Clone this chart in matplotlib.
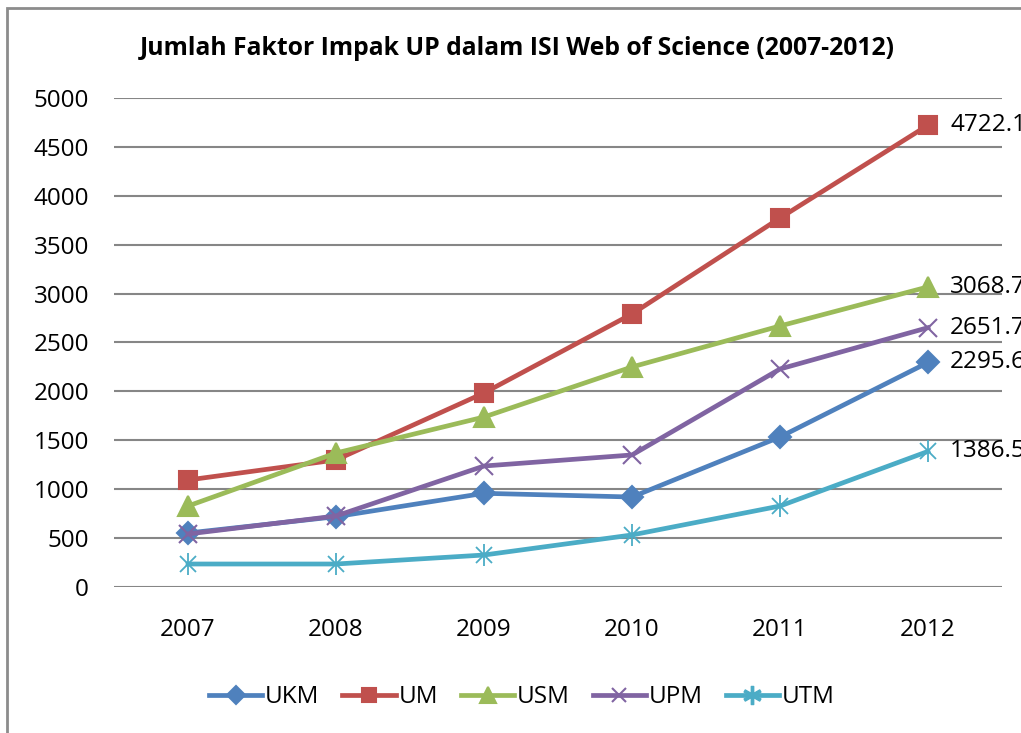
import matplotlib.pyplot as plt
from matplotlib.patches import Rectangle

years = [2007, 2008, 2009, 2010, 2011, 2012]
ukm = [552, 719, 958, 920, 1534, 2295.6]
um = [1094, 1299, 1984, 2792, 3773, 4722.1]
usm = [828, 1370, 1738, 2250, 2669, 3068.7]
upm = [542, 726, 1237, 1350, 2229, 2651.7]
utm = [235, 235, 327, 532, 828, 1386.5]

series = [
    ("UKM", ukm, "#4F81BD", "D", 11),
    ("UM", um, "#C0504D", "s", 13),
    ("USM", usm, "#9BBB59", "^", 14),
    ("UPM", upm, "#8064A2", "x", 13),
    ("UTM", utm, "#4BACC6", "star", 15),
]

plt.rcParams['font.family'] = ['Open Sans', 'DejaVu Sans']

fig = plt.figure(figsize=(10.21, 7.33), dpi=100)
ax = fig.add_axes([0.1117, 0.1992, 0.8697, 0.6671])

# chart frame (only left and top edges visible)
fig.patches.append(Rectangle((0.0069, -0.1), 1.2, 1.089, transform=fig.transFigure,
                             fill=False, edgecolor="#8c8c8c", linewidth=2))

for name, vals, color, marker, ms in series:
    if marker == "star":
        ax.plot(years, vals, color=color, lw=3.4)
        ax.plot(years, vals, ls="none", color=color, marker="x", ms=ms * 0.75, mew=1.3)
        ax.plot(years, vals, ls="none", color=color, marker="|", ms=ms * 1.05, mew=1.3)
    else:
        ax.plot(years, vals, color=color, lw=3.4, marker=marker, ms=ms, mew=1.5)
    # end labels run off the right edge, as in the original
    ax.annotate(f"{vals[-1]}", (years[-1], vals[-1]), xytext=(16, 0), textcoords="offset points",
                va="center", ha="left", fontsize=17.5, annotation_clip=False, clip_on=False)

ax.set_xlim(2006.5, 2012.5)
ax.set_ylim(0, 5000)
ax.set_yticks(range(0, 5001, 500))
ax.set_xticks(years)
ax.grid(axis="y", color="#868686", lw=1.5)
ax.set_axisbelow(True)
for s in ax.spines.values():
    s.set_visible(False)
ax.tick_params(length=0, labelsize=17.5)
ax.tick_params(axis="x", pad=22)
ax.tick_params(axis="y", pad=18)

fig.text(0.507, 0.934, "Jumlah Faktor Impak UP dalam ISI Web of Science (2007-2012)",
         ha="center", va="center", fontsize=17.8, fontweight="bold")

# legend proxies
handles = []
for name, vals, color, marker, ms in series:
    if marker == "star":
        h, = ax.plot([], [], color=color, lw=3.4, marker=r"$\ast$", ms=13, label=name)
    else:
        h, = ax.plot([], [], color=color, lw=3.4, marker=marker, ms=ms * 0.8, mew=1.5, label=name)
    handles.append(h)
fig.legend(handles=handles, loc="center", bbox_to_anchor=(0.511, 0.049), ncol=5, frameon=False,
           fontsize=17.5, handlelength=2.2, handletextpad=0.1, columnspacing=0.95)

fig.savefig("out.png", dpi=100)
